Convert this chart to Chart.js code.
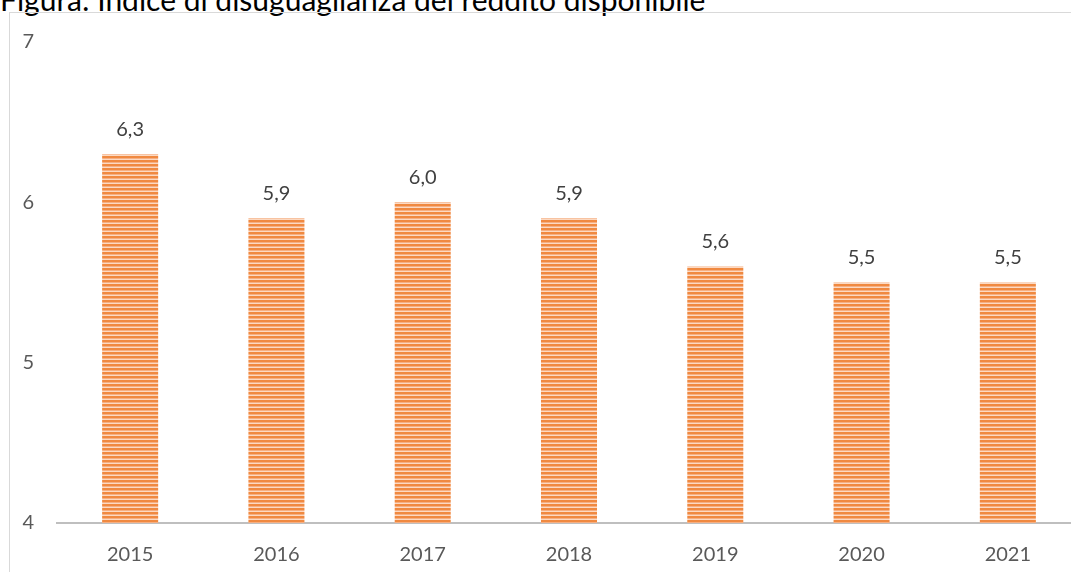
<!DOCTYPE html>
<html>
<head>
<meta charset="utf-8">
<script src="https://cdn.jsdelivr.net/npm/chart.js@4.4.1/dist/chart.umd.min.js"></script>
<style>
  html, body { margin: 0; padding: 0; background: #fff; overflow: hidden; width: 1071px; height: 572px; }
  #title { position: absolute; left: 0; top: -16px; font-family: Lato, sans-serif; font-size: 30px; line-height: 30px; color: #000; white-space: nowrap; }
  #frame { position: absolute; left: 9px; top: 12px; width: 1100px; height: 600px; border: 1px solid #D9D9D9; box-sizing: border-box; }
  #wrap { position: absolute; left: 0; top: 0; width: 1081px; height: 572px; }
</style>
</head>
<body>
<div id="title">Figura: Indice di disuguaglianza del reddito disponibile</div>
<div id="frame"></div>
<div id="wrap"><canvas id="c" width="1081" height="572"></canvas></div>
<script>
const categories = ['2015', '2016', '2017', '2018', '2019', '2020', '2021'];
const values = [6.3, 5.9, 6.0, 5.9, 5.6, 5.5, 5.5];
const yTicks = [4, 5, 6, 7];

function makePattern() {
  const p = document.createElement('canvas');
  p.width = 4; p.height = 4;
  const g = p.getContext('2d');
  g.fillStyle = '#F08940'; g.fillRect(0, 0, 4, 2);
  g.fillStyle = '#F6AF82'; g.fillRect(0, 2, 4, 1);
  g.fillStyle = '#FCD9C2'; g.fillRect(0, 3, 4, 1);
  return g.createPattern(p, 'repeat');
}

const labelPlugin = {
  id: 'valueLabels',
  afterDatasetsDraw(chart) {
    const ctx = chart.ctx;
    const meta = chart.getDatasetMeta(0);
    ctx.save();
    ctx.font = '20px Lato';
    ctx.fillStyle = '#404040';
    ctx.textAlign = 'center';
    ctx.textBaseline = 'middle';
    meta.data.forEach((bar, i) => {
      ctx.fillText(values[i].toFixed(1).replace('.', ','), bar.x, bar.y - 25);
    });
    ctx.restore();
  }
};

new Chart(document.getElementById('c'), {
  type: 'bar',
  data: {
    labels: categories,
    datasets: [{
      data: values,
      backgroundColor: makePattern(),
      borderWidth: 0,
      barPercentage: 0.383,
      categoryPercentage: 1
    }]
  },
  options: {
    responsive: false,
    animation: false,
    devicePixelRatio: 1,
    layout: { padding: { top: 42, left: 0, right: 0, bottom: 0 } },
    plugins: { legend: { display: false }, tooltip: { enabled: false }, title: { display: false } },
    scales: {
      x: {
        grid: { display: false, drawTicks: false },
        border: { display: true, color: '#BFBFBF', width: 2 },
        ticks: { color: '#595959', font: { family: 'Lato', size: 20 }, padding: 20, maxRotation: 0 },
        afterFit(s) { s.height = 49; }
      },
      y: {
        min: 4, max: 7,
        grid: { display: false, drawTicks: false },
        border: { display: false },
        afterBuildTicks(s) { s.ticks = yTicks.map(v => ({ value: v })); },
        ticks: { color: '#595959', font: { family: 'Lato', size: 20 }, padding: 23 },
        afterFit(s) { s.width = 57; }
      }
    }
  },
  plugins: [labelPlugin]
});
</script>
</body>
</html>
